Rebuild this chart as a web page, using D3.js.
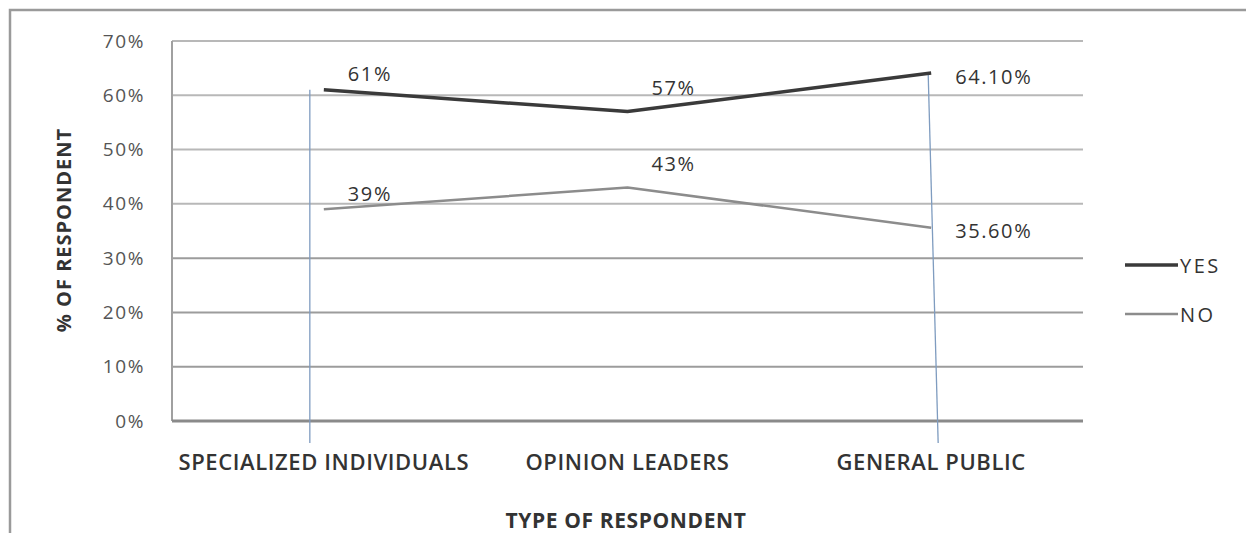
<!DOCTYPE html>
<html>
<head>
<meta charset="utf-8">
<script src="https://cdn.jsdelivr.net/npm/d3@7"></script>
<style>
  html, body { margin: 0; padding: 0; background: #fff; }
  svg { display: block; }
  text { font-family: "Open Sans", "Noto Sans", sans-serif; }
</style>
</head>
<body>
<svg id="chart" width="1246" height="533"></svg>
<script>
// Survey responses by type of respondent
const categories = ["SPECIALIZED INDIVIDUALS", "OPINION LEADERS", "GENERAL PUBLIC"];
const yesValues = [61, 57, 64.1];
const noValues = [39, 43, 35.6];
const yesLabels = ["61%", "57%", "64.10%"];
const noLabels = ["39%", "43%", "35.60%"];
const yTicks = [0, 10, 20, 30, 40, 50, 60, 70];
const seriesNames = ["YES", "NO"];

const svg = d3.select("#chart");
const plot = { left: 172, right: 1083, top: 41, bottom: 421 };

const x = d3.scaleBand().domain(categories).range([plot.left, plot.right]);
const xc = c => x(c) + x.bandwidth() / 2;
const y = d3.scaleLinear().domain([0, 70]).range([plot.bottom, plot.top]);

// outer frame
svg.append("path")
  .attr("d", `M10,533 L10,10 L1246,10`)
  .attr("fill", "none").attr("stroke", "#9a9a9a").attr("stroke-width", 2.5);

// horizontal gridlines
svg.append("g").selectAll("line").data(yTicks.filter(t => t > 0)).join("line")
  .attr("x1", plot.left).attr("x2", plot.right)
  .attr("y1", d => y(d)).attr("y2", d => y(d))
  .attr("stroke", d => d === 10 || d === 30 || d === 20 ? "#9c9c9c" : "#b8b8b8")
  .attr("stroke-width", 2);

// left axis line and baseline
svg.append("line").attr("x1", plot.left).attr("x2", plot.left)
  .attr("y1", plot.top).attr("y2", plot.bottom)
  .attr("stroke", "#a0a0a0").attr("stroke-width", 2);
svg.append("line").attr("x1", plot.left).attr("x2", plot.right)
  .attr("y1", plot.bottom).attr("y2", plot.bottom)
  .attr("stroke", "#8a8a8a").attr("stroke-width", 3);

// y axis tick labels
const yAxis = d3.axisLeft(y).tickValues(yTicks).tickFormat(d => d + "%").tickSize(0).tickPadding(27);
const gy = svg.append("g").attr("transform", `translate(${plot.left},0)`).call(yAxis);
gy.select(".domain").remove();
gy.selectAll("text")
  .attr("font-family", "'Open Sans', sans-serif")
  .attr("font-size", 19).attr("letter-spacing", 1.6).attr("fill", "#555");

// x axis category labels
const xAxis = d3.axisBottom(x).tickSize(0).tickPadding(33);
const gx = svg.append("g").attr("transform", `translate(0,${plot.bottom})`).call(xAxis);
gx.select(".domain").remove();
gx.selectAll("text")
  .attr("font-family", "'Open Sans', sans-serif")
  .attr("font-size", 22).attr("font-weight", 600).attr("letter-spacing", 0.6)
  .attr("fill", "#333");

// blue drop lines
const dropLines = [
  { x1: xc(categories[0]) - 14, y1: y(yesValues[0]), x2: xc(categories[0]) - 14, y2: 443 },
  { x1: xc(categories[2]) - 3, y1: y(yesValues[2]), x2: xc(categories[2]) + 7, y2: 443 }
];
svg.append("g").selectAll("line").data(dropLines).join("line")
  .attr("x1", d => d.x1).attr("y1", d => d.y1)
  .attr("x2", d => d.x2).attr("y2", d => d.y2)
  .attr("stroke", "#7f9cc0").attr("stroke-width", 1.3);

// series lines
const line = d3.line().x((d, i) => xc(categories[i])).y(d => y(d));
const series = [
  { name: "YES", values: yesValues, labels: yesLabels, color: "#3a3a3a", width: 3.5 },
  { name: "NO", values: noValues, labels: noLabels, color: "#8c8c8c", width: 2.5 }
];
svg.append("g").selectAll("path").data(series).join("path")
  .attr("d", d => line(d.values))
  .attr("fill", "none").attr("stroke", d => d.color).attr("stroke-width", d => d.width)
  .attr("stroke-linejoin", "round");

// data labels
series.forEach(s => {
  svg.append("g").selectAll("text").data(s.values).join("text")
    .attr("x", (d, i) => xc(categories[i]) + 24)
    .attr("y", (d, i) => i === categories.length - 1 ? y(d) + 3 : y(d) - (i === 1 ? 24 : 16))
    .attr("dominant-baseline", "central")
    .attr("font-size", 20).attr("letter-spacing", 1.6).attr("fill", "#333")
    .text((d, i) => s.labels[i]);
});

// legend
const legend = svg.append("g").selectAll("g").data(series).join("g")
  .attr("transform", (d, i) => `translate(1125,${265 + i * 49})`);
legend.append("line").attr("x1", 0).attr("x2", 53).attr("y1", 0).attr("y2", 0)
  .attr("stroke", d => d.color).attr("stroke-width", d => d.width);
legend.append("text").attr("x", 55).attr("y", 0).attr("dominant-baseline", "central")
  .attr("font-size", 20).attr("letter-spacing", 2.5).attr("fill", "#333").text(d => d.name);

// axis titles
svg.append("text").attr("x", 626).attr("y", 520)
  .attr("text-anchor", "middle").attr("dominant-baseline", "central")
  .attr("font-weight", "bold").attr("font-size", 21).attr("letter-spacing", 0.6).attr("fill", "#333")
  .text("TYPE OF RESPONDENT");
svg.append("text")
  .attr("transform", "translate(63,230) rotate(-90)")
  .attr("text-anchor", "middle").attr("dominant-baseline", "central")
  .attr("font-weight", "bold").attr("font-size", 20).attr("letter-spacing", 1).attr("fill", "#333")
  .text("% OF RESPONDENT");
</script>
</body>
</html>
